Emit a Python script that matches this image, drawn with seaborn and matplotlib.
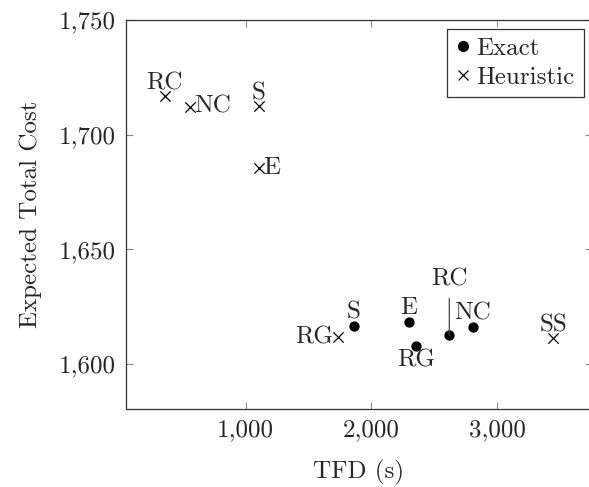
import matplotlib
matplotlib.use("Agg")
import matplotlib.pyplot as plt
import seaborn as sns
import pandas as pd
from matplotlib.ticker import FuncFormatter, FixedLocator
from matplotlib.lines import Line2D

sns.set_theme(style="white")
plt.rcParams['font.family'] = ['cmr10', 'DejaVu Serif']
plt.rcParams['axes.formatter.use_mathtext'] = True
plt.rcParams['mathtext.fontset'] = 'cm'

exact_labels = ["S", "E", "RG", "RC", "NC"]
exact_tfd = [1861, 2299, 2355, 2620, 2806]
exact_cost = [1616.5, 1618.2, 1608.0, 1612.4, 1616.0]

heur_labels = ["RC", "NC", "S", "E", "RG", "SS"]
heur_tfd = [355, 554, 1104, 1104, 1733, 3446]
heur_cost = [1716.8, 1712.2, 1712.4, 1685.3, 1611.5, 1611.2]

x_ticks = [1000, 2000, 3000]
y_ticks = [1600, 1650, 1700, 1750]

df_e = pd.DataFrame({"tfd": exact_tfd, "cost": exact_cost, "lab": exact_labels})
df_h = pd.DataFrame({"tfd": heur_tfd, "cost": heur_cost, "lab": heur_labels})

fig = plt.figure(figsize=(5.89, 4.87), dpi=100)
ax = fig.add_axes([125.7/589, 1 - 409/487, (592 - 125.7)/589, (409 - 20)/487])

sns.scatterplot(data=df_e, x="tfd", y="cost", ax=ax, marker="o", color="black",
                s=55, edgecolor="black", linewidth=0, zorder=3)
sns.scatterplot(data=df_h, x="tfd", y="cost", ax=ax, marker="x", color="black",
                s=55, linewidth=0.9, zorder=3)

fs = 18
# label placements: (ha, va, dx, dy) in points
pos_e = {"S": ("center", "bottom", 0, 2), "E": ("center", "bottom", 0, 2),
         "RG": ("center", "top", 0, -3), "NC": ("center", "bottom", 0, 2)}
for lab, xv, yv in zip(exact_labels, exact_tfd, exact_cost):
    if lab == "RC":
        ax.annotate(lab, (xv, yv), xytext=(0, 32), textcoords="offset points",
                    ha="center", va="bottom", fontsize=fs,
                    arrowprops=dict(arrowstyle="-", color="#444444", lw=0.9,
                                    shrinkA=3, shrinkB=0))
    else:
        ha, va, dx, dy = pos_e[lab]
        ax.annotate(lab, (xv, yv), xytext=(dx, dy), textcoords="offset points",
                    ha=ha, va=va, fontsize=fs)

pos_h = {"RC": ("center", "bottom", 0, 1), "NC": ("left", "center", 3, 0),
         "S": ("center", "bottom", 0, 1), "E": ("left", "center", 3, 0),
         "RG": ("right", "center", -3, 0), "SS": ("center", "bottom", 0, 1)}
for lab, xv, yv in zip(heur_labels, heur_tfd, heur_cost):
    ha, va, dx, dy = pos_h[lab]
    ax.annotate(lab, (xv, yv), xytext=(dx, dy), textcoords="offset points",
                ha=ha, va=va, fontsize=fs)

ax.set_xlim(46, 3755)
ax.set_ylim(1580.3, 1750)
ax.xaxis.set_major_locator(FixedLocator(x_ticks))
ax.yaxis.set_major_locator(FixedLocator(y_ticks))
ax.xaxis.set_major_formatter(FuncFormatter(lambda v, p: f"{int(v):,}"))
ax.yaxis.set_major_formatter(FuncFormatter(lambda v, p: f"{int(v):,}"))
ax.tick_params(direction="in", length=5, width=0.8, color="#888888",
               top=True, right=True, bottom=True, left=True,
               labelsize=fs, pad=7)
for sp in ax.spines.values():
    sp.set_color("#333333")
    sp.set_linewidth(0.9)
ax.spines["right"].set_visible(False)

ax.set_xlabel("TFD (s)", fontsize=fs, labelpad=14)
ax.set_ylabel("Expected Total Cost", fontsize=fs, labelpad=12)

handles = [Line2D([], [], marker="o", color="black", linestyle="none", markersize=7),
           Line2D([], [], marker="x", color="black", linestyle="none", markersize=7,
                  markeredgewidth=0.9)]
leg = ax.legend(handles, ["Exact", "Heuristic"], loc="upper right", fontsize=fs,
                frameon=True, fancybox=False, handlelength=0.6, handletextpad=0.25,
                borderpad=0.35, labelspacing=0.25, borderaxespad=0.34)
leg.get_frame().set_edgecolor("black")
leg.get_frame().set_linewidth(0.9)

fig.savefig("out.png", dpi=100)
